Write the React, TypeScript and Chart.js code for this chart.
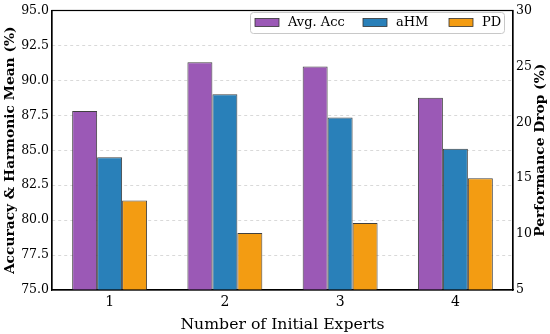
import React, { useEffect, useRef } from "react";
import { Chart, registerables } from "chart.js";

Chart.register(...registerables);

const categories = ["1", "2", "3", "4"];
const avgAcc = [87.8, 91.3, 91.0, 88.75];
const aHM = [84.5, 89.0, 87.35, 85.1];
const pd = [13.0, 10.1, 11.0, 15.0];
const leftTicks = [75, 77.5, 80, 82.5, 85, 87.5, 90, 92.5, 95];
const rightTicks = [5, 10, 15, 20, 25, 30];
const rightTitle = "Performance Drop (%)";

const FONT = "'DejaVu Serif', serif";

const framePlugin = {
  id: "frame",
  afterDatasetsDraw(chart: any) {
    const { ctx, chartArea } = chart;
    ctx.save();
    ctx.strokeStyle = "#000";
    ctx.lineWidth = 1.2;
    ctx.strokeRect(chartArea.left, chartArea.top, chartArea.right - chartArea.left, chartArea.bottom - chartArea.top);
    // legend
    const x0 = 250.5, y0 = 12.5, w = 254, h = 21;
    ctx.fillStyle = "rgba(255,255,255,0.9)";
    ctx.strokeStyle = "#c8c8c8";
    ctx.lineWidth = 1;
    ctx.beginPath();
    if ((ctx as any).roundRect) (ctx as any).roundRect(x0, y0, w, h, 3);
    else ctx.rect(x0, y0, w, h);
    ctx.fill();
    ctx.stroke();
    ctx.font = "13px " + FONT;
    ctx.textBaseline = "middle";
    ctx.textAlign = "left";
    const xs = [255, 363, 449];
    chart.data.datasets.forEach((ds: any, i: number) => {
      const sx = xs[i];
      ctx.fillStyle = ds.backgroundColor;
      ctx.fillRect(sx, 18.5, 24, 8);
      ctx.strokeStyle = "#333";
      ctx.lineWidth = 0.8;
      ctx.strokeRect(sx, 18.5, 24, 8);
      ctx.fillStyle = "#000";
      ctx.fillText(ds.label, sx + 33, 23);
    });
    // right axis title (reads bottom to top)
    const y1 = chart.scales.y1;
    ctx.translate(540, (y1.top + y1.bottom) / 2);
    ctx.rotate(-Math.PI / 2);
    ctx.textAlign = "center";
    ctx.textBaseline = "middle";
    ctx.font = "bold 13.8px " + FONT;
    ctx.fillStyle = "#000";
    ctx.fillText(rightTitle, 0, 0);
    ctx.restore();
  },
};

export default function App() {
  const ref = useRef<HTMLCanvasElement | null>(null);
  useEffect(() => {
    document.body.style.margin = "0";
    const chart = new Chart(ref.current!, {
      type: "bar",
      data: {
        labels: categories,
        datasets: [
          { label: "Avg. Acc", data: avgAcc, backgroundColor: "#9b59b6", borderColor: "#404040", borderWidth: 1, yAxisID: "y" },
          { label: "aHM", data: aHM, backgroundColor: "#2980b9", borderColor: "#404040", borderWidth: 1, yAxisID: "y" },
          { label: "PD", data: pd, backgroundColor: "#f39c12", borderColor: "#404040", borderWidth: 1, yAxisID: "y1" },
        ],
      },
      options: {
        animation: false,
        responsive: false,
        maintainAspectRatio: false,
        layout: { padding: { top: 7, left: 0, right: 0, bottom: 0 } },
        plugins: { legend: { display: false }, tooltip: { enabled: false } },
        datasets: { bar: { categoryPercentage: 0.65, barPercentage: 1.0 } } as any,
        scales: {
          x: {
            offset: true,
            grid: { offset: false, drawOnChartArea: false, drawTicks: false },
            border: { color: "#000", width: 1.2 },
            ticks: { color: "#000", font: { family: FONT, size: 14 }, padding: 4 },
            title: { display: true, text: "Number of Initial Experts", color: "#000", font: { family: FONT, size: 15.7 }, padding: { top: 2, bottom: 0 } },
            afterFit: (s: any) => { s.height = 44; },
          },
          y: {
            position: "left",
            min: 75,
            max: 95,
            afterBuildTicks: (s: any) => { s.ticks = leftTicks.map((v) => ({ value: v })); },
            grid: {
              color: (c: any) => (c.tick && (c.tick.value === 75 || c.tick.value === 95) ? "rgba(0,0,0,0)" : "#d0d0d0"),
              drawTicks: false,
              lineWidth: 0.8,
            },
            border: { color: "#000", width: 1.2, dash: [3, 3] },
            ticks: { color: "#000", font: { family: FONT, size: 12.5 }, padding: 3, callback: (v: any) => Number(v).toFixed(1) },
            title: { display: true, text: "Accuracy & Harmonic Mean (%)", color: "#000", font: { family: FONT, size: 13.8, weight: "bold" }, padding: { top: 2, bottom: 0 } },
            afterFit: (s: any) => { s.width = 52; },
          },
          y1: {
            position: "right",
            min: 5,
            max: 30,
            afterBuildTicks: (s: any) => { s.ticks = rightTicks.map((v) => ({ value: v })); },
            grid: { drawOnChartArea: false, drawTicks: false },
            border: { color: "#000", width: 1.2 },
            ticks: { color: "#000", font: { family: FONT, size: 12.5 }, padding: 3 },
            title: { display: false },
            afterFit: (s: any) => { s.width = 37; },
          },
        },
      },
      plugins: [framePlugin],
    });
    return () => chart.destroy();
  }, []);
  return (
    <div style={{ width: 550, height: 334 }}>
      <canvas ref={ref} width={550} height={334} style={{ width: 550, height: 334, display: "block" }} />
    </div>
  );
}
